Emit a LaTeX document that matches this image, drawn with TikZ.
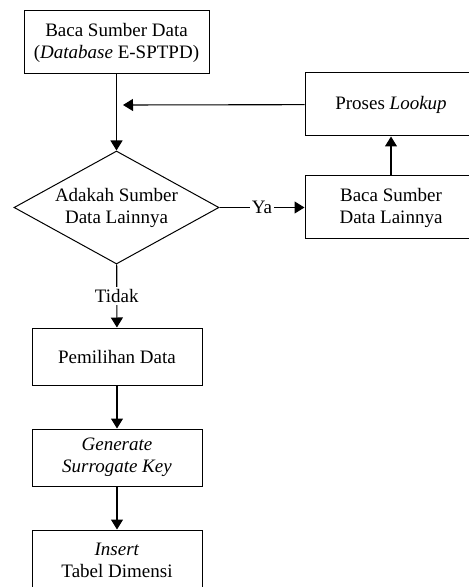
\documentclass[tikz,border=0pt]{standalone}
\usepackage{fontspec}
\setmainfont{Liberation Serif}
\usetikzlibrary{shapes.geometric,arrows.meta}
\begin{document}
\begin{tikzpicture}[x=0.5pt,y=-0.5pt,font=\fontsize{9.5}{11}\selectfont,
		>={Triangle[length=5pt,width=6pt]}]
			\clip (0,0) rectangle (469,587);
			\begin{scope}[every node/.style={rectangle,draw,line width=0.5pt,align=center,minimum width=85pt,minimum height=28.5pt}]
				\node (src) at (116.5,42.5) [minimum width=92.5pt,minimum height=31.5pt] {Baca Sumber Data\\(\textit{Database} E-SPTPD)};
				\node (lookup) at (391,104.5) [minimum width=86pt,minimum height=31.5pt] {Proses \textit{Lookup}};
				\node (other) at (391,207.5) [minimum width=86pt,minimum height=31.5pt] {Baca Sumber\\Data Lainnya};
				\node (cek) at (116.5,207.5) [diamond,aspect=1.8,inner sep=0pt,minimum width=102.5pt,minimum height=56.5pt] {Adakah Sumber\\Data Lainnya};
				\node (pilih) at (117,356.5) {Pemilihan Data};
				\node (gen) at (117,457.5) {\textit{Generate}\\\textit{Surrogate Key}};
				\node (ins) at (117,560) [minimum height=30pt] {\textit{Insert}\\Tabel Dimensi};
			\end{scope}
			\coordinate (join) at (123,105);
			
			\begin{scope}[every edge/.style={draw=black,line width=0.55pt}]
				\path [->] (src) edge (cek);
				\path [->] (lookup) edge (join);
				\path [->] (other) edge (lookup);
				\path [->] (cek) edge node [fill=white,inner sep=1pt] {Ya} (other);
				\path [->] (cek) edge node [fill=white,inner sep=1pt] {Tidak} (pilih);
				\path [->] (pilih) edge (gen);
				\path [->] (gen) edge (ins);
			\end{scope}
		\end{tikzpicture}
\end{document}
